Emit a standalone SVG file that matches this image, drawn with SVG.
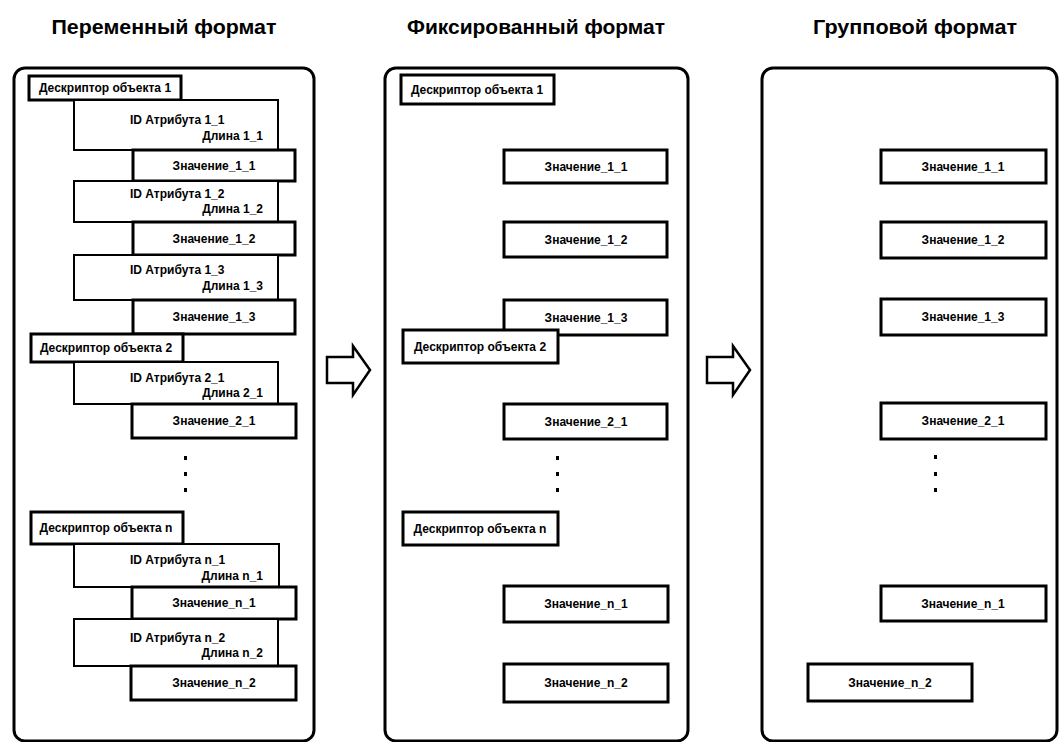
<svg xmlns="http://www.w3.org/2000/svg" width="1061" height="742" viewBox="0 0 1061 742">
  <style>
    text { font-family: "Liberation Sans", Arial, sans-serif; font-weight: bold; fill: #000; }
    .title { font-size: 20px; text-anchor: middle; }
    .lbl { font-size: 12px; }
    .mid { text-anchor: middle; }
    .end { text-anchor: end; }
    .panel { fill: #fff; stroke: #000; stroke-width: 3; }
    .box { fill: #fff; stroke: #000; stroke-width: 3; }
    .idbox { fill: #fff; stroke: #000; stroke-width: 2; }
    .dot { fill: #000; }
    .arrow { fill: #fff; stroke: #000; stroke-width: 2.5; stroke-linejoin: miter; }
  </style>

  <rect width="1061" height="742" fill="#fff"/>

  <!-- column titles -->
  <text class="title" x="164" y="34" textLength="225" lengthAdjust="spacingAndGlyphs">Переменный формат</text>
  <text class="title" x="536" y="34" textLength="258" lengthAdjust="spacingAndGlyphs">Фиксированный формат</text>
  <text class="title" x="915" y="34" textLength="204" lengthAdjust="spacingAndGlyphs">Групповой формат</text>

  <!-- ===== variable format ===== -->
  <g id="panel-variable">
    <rect class="panel" x="14" y="68" width="300" height="673" rx="11"/>

    <g id="v-desc-1">
      <rect class="box" x="29" y="76" width="152" height="24"/>
      <text class="lbl mid" x="105" y="92">Дескриптор объекта 1</text>
    </g>
    <g id="v-attr-1-1">
      <rect class="idbox" x="74" y="100" width="204" height="50"/>
      <text class="lbl" x="130" y="124">ID Атрибута 1_1</text>
      <text class="lbl end" x="263" y="140">Длина 1_1</text>
    </g>
    <g id="v-val-1-1">
      <rect class="box" x="133" y="150" width="162" height="31"/>
      <text class="lbl mid" x="214" y="170">Значение_1_1</text>
    </g>
    <g id="v-attr-1-2">
      <rect class="idbox" x="74" y="181" width="204" height="41"/>
      <text class="lbl" x="130" y="198">ID Атрибута 1_2</text>
      <text class="lbl end" x="263" y="213">Длина 1_2</text>
    </g>
    <g id="v-val-1-2">
      <rect class="box" x="133" y="222" width="162" height="33"/>
      <text class="lbl mid" x="214" y="243">Значение_1_2</text>
    </g>
    <g id="v-attr-1-3">
      <rect class="idbox" x="74" y="255" width="204" height="45"/>
      <text class="lbl" x="130" y="274">ID Атрибута 1_3</text>
      <text class="lbl end" x="263" y="290">Длина 1_3</text>
    </g>
    <g id="v-val-1-3">
      <rect class="box" x="133" y="300" width="162" height="34"/>
      <text class="lbl mid" x="214" y="321">Значение_1_3</text>
    </g>
    <g id="v-desc-2">
      <rect class="box" x="31" y="334" width="152" height="28"/>
      <text class="lbl mid" x="106" y="352">Дескриптор объекта 2</text>
    </g>
    <g id="v-attr-2-1">
      <rect class="idbox" x="74" y="362" width="204" height="42"/>
      <text class="lbl" x="130" y="382">ID Атрибута 2_1</text>
      <text class="lbl end" x="263" y="397">Длина 2_1</text>
    </g>
    <g id="v-val-2-1">
      <rect class="box" x="132" y="404" width="164" height="34"/>
      <text class="lbl mid" x="214" y="425">Значение_2_1</text>
    </g>
    <g id="v-ellipsis">
      <rect class="dot" x="184" y="456" width="3" height="4"/>
      <rect class="dot" x="184" y="472" width="3" height="4"/>
      <rect class="dot" x="184" y="488" width="3" height="4"/>
    </g>
    <g id="v-desc-n">
      <rect class="box" x="31" y="512" width="152" height="32"/>
      <text class="lbl mid" x="106" y="532">Дескриптор объекта n</text>
    </g>
    <g id="v-attr-n-1">
      <rect class="idbox" x="74" y="544" width="205" height="43"/>
      <text class="lbl" x="130" y="564">ID Атрибута n_1</text>
      <text class="lbl end" x="263" y="580">Длина n_1</text>
    </g>
    <g id="v-val-n-1">
      <rect class="box" x="132" y="587" width="164" height="32"/>
      <text class="lbl mid" x="214" y="607">Значение_n_1</text>
    </g>
    <g id="v-attr-n-2">
      <rect class="idbox" x="74" y="619" width="204" height="47"/>
      <text class="lbl" x="130" y="642">ID Атрибута n_2</text>
      <text class="lbl end" x="263" y="657">Длина n_2</text>
    </g>
    <g id="v-val-n-2">
      <rect class="box" x="131" y="666" width="165" height="34"/>
      <text class="lbl mid" x="214" y="687">Значение_n_2</text>
    </g>
  </g>

  <!-- ===== fixed format ===== -->
  <g id="panel-fixed">
    <rect class="panel" x="385" y="68" width="303" height="673" rx="11"/>

    <g id="f-desc-1">
      <rect class="box" x="401" y="75" width="153" height="29"/>
      <text class="lbl mid" x="477" y="94">Дескриптор объекта 1</text>
    </g>
    <g id="f-val-1-1">
      <rect class="box" x="504" y="150" width="163" height="33"/>
      <text class="lbl mid" x="586" y="171">Значение_1_1</text>
    </g>
    <g id="f-val-1-2">
      <rect class="box" x="504" y="222" width="163" height="35"/>
      <text class="lbl mid" x="586" y="244">Значение_1_2</text>
    </g>
    <g id="f-val-1-3">
      <rect class="box" x="504" y="300" width="163" height="35"/>
      <text class="lbl mid" x="586" y="322">Значение_1_3</text>
    </g>
    <g id="f-desc-2">
      <rect class="box" x="403" y="330" width="155" height="33"/>
      <text class="lbl mid" x="480" y="351">Дескриптор объекта 2</text>
    </g>
    <g id="f-val-2-1">
      <rect class="box" x="504" y="404" width="163" height="35"/>
      <text class="lbl mid" x="586" y="426">Значение_2_1</text>
    </g>
    <g id="f-ellipsis">
      <rect class="dot" x="556" y="456" width="3" height="4"/>
      <rect class="dot" x="556" y="472" width="3" height="4"/>
      <rect class="dot" x="556" y="488" width="3" height="4"/>
    </g>
    <g id="f-desc-n">
      <rect class="box" x="403" y="512" width="155" height="33"/>
      <text class="lbl mid" x="480" y="533">Дескриптор объекта n</text>
    </g>
    <g id="f-val-n-1">
      <rect class="box" x="504" y="586" width="164" height="36"/>
      <text class="lbl mid" x="586" y="608">Значение_n_1</text>
    </g>
    <g id="f-val-n-2">
      <rect class="box" x="504" y="664" width="164" height="38"/>
      <text class="lbl mid" x="586" y="687">Значение_n_2</text>
    </g>
  </g>

  <!-- ===== group format ===== -->
  <g id="panel-group">
    <rect class="panel" x="762" y="68" width="295" height="673" rx="11"/>

    <g id="g-val-1-1">
      <rect class="box" x="881" y="150" width="165" height="33"/>
      <text class="lbl mid" x="963" y="171">Значение_1_1</text>
    </g>
    <g id="g-val-1-2">
      <rect class="box" x="881" y="222" width="165" height="36"/>
      <text class="lbl mid" x="963" y="244">Значение_1_2</text>
    </g>
    <g id="g-val-1-3">
      <rect class="box" x="881" y="299" width="165" height="36"/>
      <text class="lbl mid" x="963" y="321">Значение_1_3</text>
    </g>
    <g id="g-val-2-1">
      <rect class="box" x="881" y="403" width="165" height="36"/>
      <text class="lbl mid" x="963" y="425">Значение_2_1</text>
    </g>
    <g id="g-ellipsis">
      <rect class="dot" x="934" y="455" width="3" height="4"/>
      <rect class="dot" x="934" y="472" width="3" height="4"/>
      <rect class="dot" x="934" y="488" width="3" height="4"/>
    </g>
    <g id="g-val-n-1">
      <rect class="box" x="881" y="586" width="165" height="35"/>
      <text class="lbl mid" x="963" y="608">Значение_n_1</text>
    </g>
    <g id="g-val-n-2">
      <rect class="box" x="808" y="664" width="164" height="37"/>
      <text class="lbl mid" x="890" y="687">Значение_n_2</text>
    </g>
  </g>

  <!-- transitions between formats -->
  <g id="connectors">
    <polygon class="arrow" points="327,357 353,357 353,346 370,370 353,395 353,383 327,383"/>
    <polygon class="arrow" points="707,357 733,357 733,346 750,370 733,395 733,383 707,383"/>
  </g>
</svg>
